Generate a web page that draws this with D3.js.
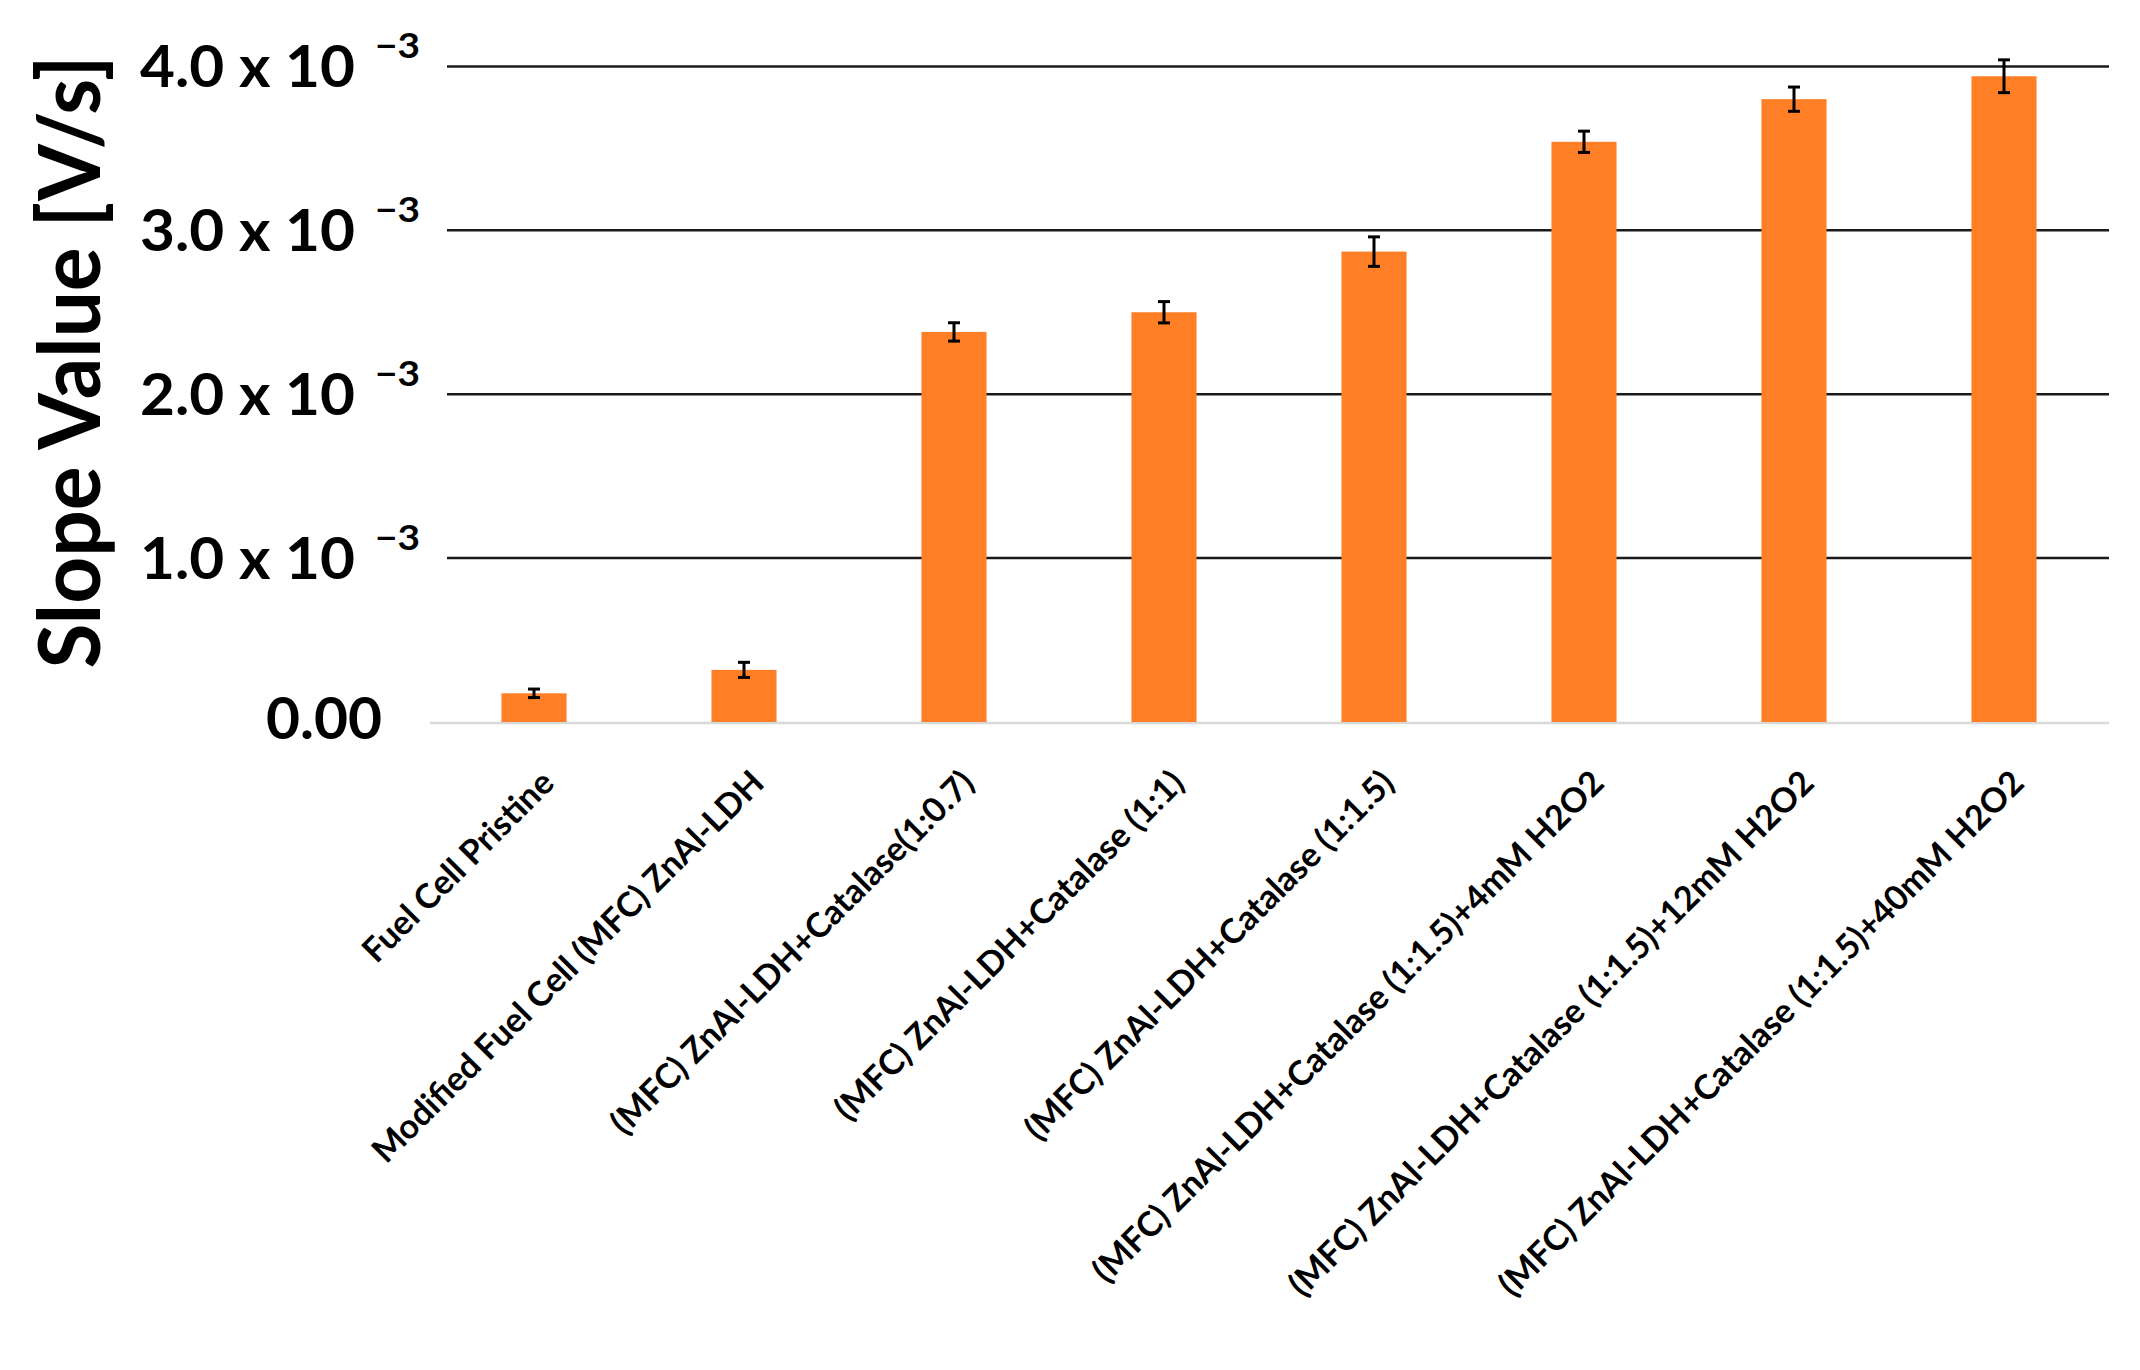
<!DOCTYPE html>
<html><head><meta charset="utf-8">
<script src="https://cdn.jsdelivr.net/npm/d3@7/dist/d3.min.js"></script>
<style>body{margin:0;background:#fff}</style></head>
<body><svg id="c" width="2140" height="1370"></svg>
<script>
const categories = ["Fuel Cell Pristine","Modified Fuel Cell (MFC) ZnAl-LDH","(MFC) ZnAl-LDH+Catalase(1:0.7)","(MFC) ZnAl-LDH+Catalase (1:1)","(MFC) ZnAl-LDH+Catalase (1:1.5)","(MFC) ZnAl-LDH+Catalase (1:1.5)+4mM H2O2","(MFC) ZnAl-LDH+Catalase (1:1.5)+12mM H2O2","(MFC) ZnAl-LDH+Catalase (1:1.5)+40mM H2O2"];
const values = [0.175,0.318,2.38,2.50,2.87,3.54,3.80,3.94]; // x 10^-3 V/s
const errors = [0.026,0.046,0.056,0.065,0.09,0.065,0.074,0.10];
const yTicks = [0,1,2,3,4];
const yTickLabels = ["0.00","1.0 x 10","2.0 x 10","3.0 x 10","4.0 x 10"];

const svg = d3.select("#c");
const font = "Lato, 'Open Sans', sans-serif";
const x = d3.scaleBand().domain(categories).range([429,2109]).paddingInner(0.69).paddingOuter(0.345);
const y = d3.scaleLinear().domain([0,4]).range([722,66.4]);

svg.append("g").selectAll("line").data(yTicks.filter(d=>d>0)).join("line")
  .attr("x1",447).attr("x2",2109).attr("y1",d=>y(d)).attr("y2",d=>y(d))
  .attr("stroke","#1a1a1a").attr("stroke-width",2.5);
svg.append("line").attr("x1",430).attr("x2",2109).attr("y1",y(0)+1).attr("y2",y(0)+1)
  .attr("stroke","#d9d9d9").attr("stroke-width",2.5);

svg.append("g").selectAll("rect").data(values).join("rect")
  .attr("x",(d,i)=>x(categories[i])).attr("width",x.bandwidth())
  .attr("y",d=>y(d)).attr("height",d=>y(0)-y(d)).attr("fill","#FF7F27");

const eb = svg.append("g").attr("stroke","#000").attr("stroke-width",3);
values.forEach((v,i)=>{
  const cx = x(categories[i])+x.bandwidth()/2, e=errors[i];
  eb.append("line").attr("x1",cx).attr("x2",cx).attr("y1",y(v+e)).attr("y2",y(v-e));
  [v+e,v-e].forEach(t=>eb.append("line").attr("x1",cx-6).attr("x2",cx+6).attr("y1",y(t)).attr("y2",y(t)));
});

const yl = svg.append("g").attr("font-family",font).attr("font-weight",700).attr("fill","#000");
yTicks.forEach((t,i)=>{
  if(t===0){
    yl.append("text").attr("x",382).attr("y",y(0)+17).attr("text-anchor","end")
      .attr("font-size",57).attr("textLength",116).attr("lengthAdjust","spacingAndGlyphs").text(yTickLabels[i]);
  } else {
    yl.append("text").attr("x",140).attr("y",y(t)+21)
      .attr("font-size",57).attr("textLength",215).attr("lengthAdjust","spacingAndGlyphs").text(yTickLabels[i]);
    yl.append("text").attr("x",375).attr("y",y(t)-8)
      .attr("font-size",34).attr("textLength",45).attr("lengthAdjust","spacingAndGlyphs").text("\u22123");
  }
});

svg.append("text").attr("transform","translate(100,362) rotate(-90)").attr("text-anchor","middle")
  .attr("font-family",font).attr("font-weight",700).attr("font-size",86)
  .attr("textLength",613).attr("lengthAdjust","spacingAndGlyphs").text("Slope Value [V/s]");

svg.append("g").selectAll("text").data(categories).join("text")
  .attr("transform",d=>`translate(${x(d)+x.bandwidth()/2+22},${785}) rotate(-45)`)
  .attr("text-anchor","end").attr("font-family",font).attr("font-weight",700)
  .attr("font-size",34).text(d=>d);
</script></body></html>
